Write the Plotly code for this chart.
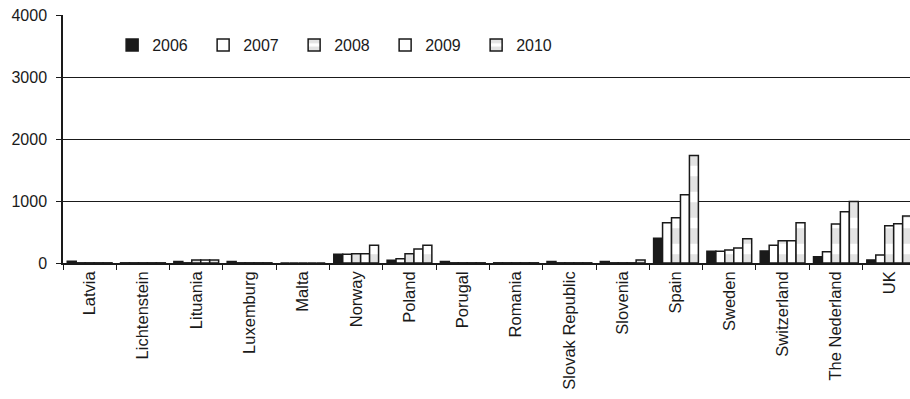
import plotly.graph_objects as go

countries = ["Latvia", "Lichtenstein", "Lituania", "Luxemburg", "Malta", "Norway",
             "Poland", "Porugal", "Romania", "Slovak Republic", "Slovenia", "Spain",
             "Sweden", "Switzerland", "The Nederland", "UK"]

v2006 = [30, 3, 25, 25, 0, 140, 45, 25, 3, 25, 25, 400, 190, 195, 100, 50]
v2007 = [3, 3, 3, 3, 0, 140, 70, 3, 3, 3, 3, 650, 190, 285, 180, 130]
v2008 = [3, 3, 50, 3, 0, 150, 150, 3, 3, 3, 3, 730, 210, 360, 630, 600]
v2009 = [3, 3, 50, 3, 0, 150, 225, 3, 3, 3, 3, 1100, 240, 360, 825, 635]
v2010 = [3, 3, 50, 3, 0, 285, 285, 3, 3, 3, 50, 1735, 390, 650, 990, 760]

years = ["2006", "2007", "2008", "2009", "2010"]
series = [v2006, v2007, v2008, v2009, v2010]

fig = go.Figure()
for yr, vals in zip(years, series):
    if yr == "2006":
        marker = dict(color="#1a1a1a", line=dict(color="#1a1a1a", width=1.5))
    elif yr in ("2007", "2009"):
        marker = dict(color="white", line=dict(color="#1a1a1a", width=1.5))
    else:
        marker = dict(color="white", line=dict(color="#1a1a1a", width=1.5),
                      pattern=dict(shape="-", fgcolor="#c8c8c8", bgcolor="white",
                                   size=26, solidity=0.6))
    fig.add_trace(go.Bar(x=countries, y=vals, name=yr, marker=marker))

fig.update_layout(
    width=910, height=399,
    margin=dict(l=63, r=0, t=15, b=136),
    plot_bgcolor="white", paper_bgcolor="white",
    barmode="group", bargap=0.16, bargroupgap=0,
    font=dict(family="Liberation Sans, Arial, sans-serif", color="#1a1a1a"),
    showlegend=True,
    legend=dict(orientation="h", x=0.058, y=0.879, xanchor="left", yanchor="middle",
                entrywidth=46, font=dict(size=16), bgcolor="rgba(0,0,0,0)",
                itemwidth=30),
    xaxis=dict(range=[-0.5, 15.39], tickangle=-90, showline=True, linecolor="#1a1a1a",
               linewidth=1.5, ticks="outside", tickson="boundaries", ticklen=5,
               tickcolor="#1a1a1a", tickfont=dict(size=16.5), showgrid=False,
               automargin=False),
    yaxis=dict(range=[0, 4000], tickvals=[0, 1000, 2000, 3000, 4000], showline=True,
               linecolor="#1a1a1a", linewidth=1.5, ticks="outside", ticklen=5,
               tickcolor="#1a1a1a", tickfont=dict(size=16), showgrid=True,
               gridcolor="#1a1a1a", gridwidth=1, zeroline=False,
               ticklabelstandoff=6, automargin=False),
)

fig.write_html("out.html", config={"displayModeBar": False})

with open("out.html", "r", encoding="utf-8") as f:
    html = f.read()
html = html.replace("<body>", "<body style=\"margin:0;padding:0;\">", 1)
html = html.replace("<head>", "<head><style>html,body{margin:0;padding:0;}</style>", 1)
with open("out.html", "w", encoding="utf-8") as f:
    f.write(html)
